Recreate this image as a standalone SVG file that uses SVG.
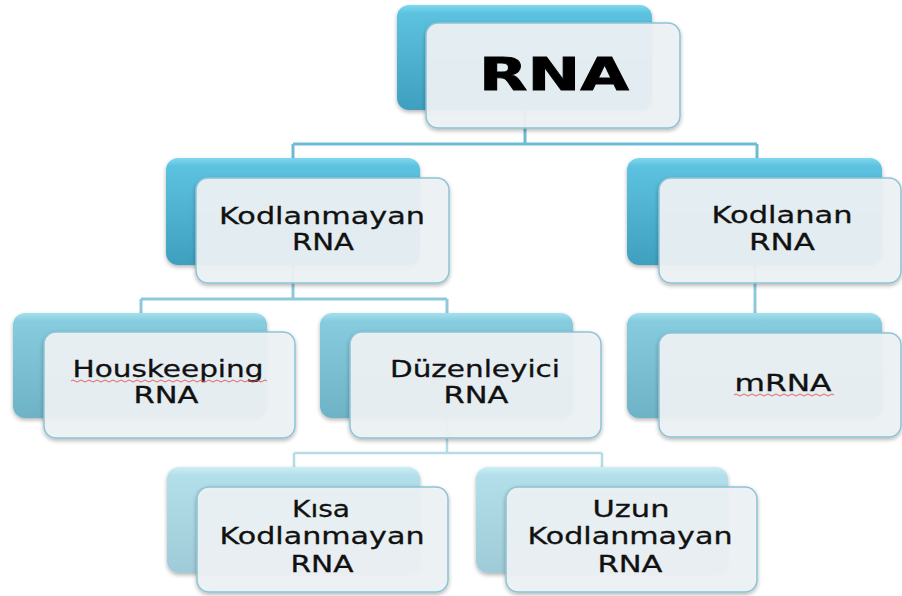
<svg xmlns="http://www.w3.org/2000/svg" width="902" height="596" viewBox="0 0 902 596">
<defs>
<linearGradient id="g1" x1="0" y1="0" x2="0" y2="1">
<stop offset="0" stop-color="#7fd8ef"/>
<stop offset="0.08" stop-color="#5cc2df"/>
<stop offset="1" stop-color="#3f9fbf"/>
</linearGradient>
<linearGradient id="g2" x1="0" y1="0" x2="0" y2="1">
<stop offset="0" stop-color="#a4e0ef"/>
<stop offset="0.08" stop-color="#86cbde"/>
<stop offset="1" stop-color="#6eb2c6"/>
</linearGradient>
<linearGradient id="g3" x1="0" y1="0" x2="0" y2="1">
<stop offset="0" stop-color="#cbeef7"/>
<stop offset="0.08" stop-color="#b3dfea"/>
<stop offset="1" stop-color="#9fcbd8"/>
</linearGradient>
<filter id="sh" x="-10%" y="-10%" width="120%" height="130%">
<feGaussianBlur in="SourceAlpha" stdDeviation="2"/>
<feOffset dx="0" dy="2" result="b"/>
<feComponentTransfer><feFuncA type="linear" slope="0.3"/></feComponentTransfer>
<feMerge><feMergeNode/><feMergeNode in="SourceGraphic"/></feMerge>
</filter>
</defs>
<style>
.b1{fill:url(#g1);filter:url(#sh)}
.b2{fill:url(#g2);filter:url(#sh)}
.b3{fill:url(#g3);filter:url(#sh)}
.w{fill:#eef2f5;fill-opacity:0.93;stroke:#8cc3d5;stroke-width:1.5;filter:url(#sh)}
.c1{stroke:#6dbcd3;stroke-width:3;fill:none}
.c2{stroke:#8ccadb;stroke-width:3;fill:none}
.c3{stroke:#b5dbe6;stroke-width:2.5;fill:none}
.t{font-family:"DejaVu Sans","Liberation Sans",sans-serif;font-size:22.5px;fill:#111;text-anchor:middle;stroke:#111;stroke-width:0.3}
.root{font-family:"DejaVu Sans","Liberation Sans",sans-serif;font-size:45px;font-weight:bold;fill:#000;text-anchor:middle;stroke:#000;stroke-width:0.8}
.wave{fill:none;stroke:#e85050;stroke-width:0.9}
</style>
<g id="connectors">
<path class="c1" d="M525,110 V144 M293,144 H757 M293,144 V158 M757,144 V158"/>
<path class="c2" d="M293,265 V299 M141,299 H447 M141,299 V313 M447,299 V313 M755,265 V313"/>
<path class="c3" d="M447,418 V453 M294,453 H602 M294,453 V467 M602,453 V467"/>
</g>
<g id="root-node">
<rect class="b1" x="397" y="5" width="255" height="105" rx="12"/>
<rect class="w" x="426" y="23" width="254" height="105" rx="12"/>
<text class="root" x="554" y="90" textLength="150" lengthAdjust="spacingAndGlyphs">RNA</text>
</g>
<g id="kodlanmayan">
<rect class="b1" x="166" y="158" width="254" height="107" rx="12"/>
<rect class="w" x="196" y="178" width="253" height="105" rx="12"/>
<text class="t" x="322" y="224" textLength="206" lengthAdjust="spacingAndGlyphs">Kodlanmayan</text>
<text class="t" x="323" y="250" textLength="62" lengthAdjust="spacingAndGlyphs">RNA</text>
</g>
<g id="kodlanan">
<rect class="b1" x="627" y="158" width="255" height="107" rx="12"/>
<rect class="w" x="659" y="178" width="242" height="105" rx="12"/>
<text class="t" x="782" y="223" textLength="141" lengthAdjust="spacingAndGlyphs">Kodlanan</text>
<text class="t" x="782" y="250" textLength="66" lengthAdjust="spacingAndGlyphs">RNA</text>
</g>
<g id="houskeeping">
<rect class="b2" x="13" y="313" width="254" height="105" rx="12"/>
<rect class="w" x="44" y="332" width="251" height="106" rx="12"/>
<text class="t" x="168" y="377" textLength="191" lengthAdjust="spacingAndGlyphs">Houskeeping</text>
<path class="wave" d="M71,381 q2,-2 4,0 t4,0 t4,0 t4,0 t4,0 t4,0 t4,0 t4,0 t4,0 t4,0 t4,0 t4,0 t4,0 t4,0 t4,0 t4,0 t4,0 t4,0 t4,0 t4,0 t4,0 t4,0 t4,0 t4,0 t4,0 t4,0 t4,0 t4,0 t4,0 t4,0 t4,0 t4,0 t4,0 t4,0 t4,0 t4,0 t4,0 t4,0 t4,0 t4,0 t4,0 t4,0 t4,0 t4,0 t4,0 t4,0 t4,0 t4,0 t4,0"/>
<text class="t" x="166" y="403" textLength="65" lengthAdjust="spacingAndGlyphs">RNA</text>
</g>
<g id="duzenleyici">
<rect class="b2" x="320" y="313" width="253" height="105" rx="12"/>
<rect class="w" x="350" y="332" width="251" height="106" rx="12"/>
<text class="t" x="475" y="377" textLength="170" lengthAdjust="spacingAndGlyphs">Düzenleyici</text>
<text class="t" x="476" y="403" textLength="65" lengthAdjust="spacingAndGlyphs">RNA</text>
</g>
<g id="mrna">
<rect class="b2" x="627" y="313" width="255" height="105" rx="12"/>
<rect class="w" x="659" y="333" width="242" height="104" rx="12"/>
<text class="t" x="783" y="391" textLength="97" lengthAdjust="spacingAndGlyphs">mRNA</text>
<path class="wave" d="M734,395 q2,-2 4,0 t4,0 t4,0 t4,0 t4,0 t4,0 t4,0 t4,0 t4,0 t4,0 t4,0 t4,0 t4,0 t4,0 t4,0 t4,0 t4,0 t4,0 t4,0 t4,0 t4,0 t4,0 t4,0 t4,0 t4,0"/>
</g>
<g id="kisa">
<rect class="b3" x="167" y="467" width="253" height="106" rx="12"/>
<rect class="w" x="197" y="487" width="251" height="105" rx="12"/>
<text class="t" x="321" y="517" textLength="58" lengthAdjust="spacingAndGlyphs">Kısa</text>
<text class="t" x="322" y="544" textLength="205" lengthAdjust="spacingAndGlyphs">Kodlanmayan</text>
<text class="t" x="322" y="572" textLength="63" lengthAdjust="spacingAndGlyphs">RNA</text>
</g>
<g id="uzun">
<rect class="b3" x="476" y="467" width="252" height="106" rx="12"/>
<rect class="w" x="506" y="487" width="251" height="105" rx="12"/>
<text class="t" x="631" y="517" textLength="77" lengthAdjust="spacingAndGlyphs">Uzun</text>
<text class="t" x="630" y="544" textLength="205" lengthAdjust="spacingAndGlyphs">Kodlanmayan</text>
<text class="t" x="630" y="572" textLength="65" lengthAdjust="spacingAndGlyphs">RNA</text>
</g>
</svg>
